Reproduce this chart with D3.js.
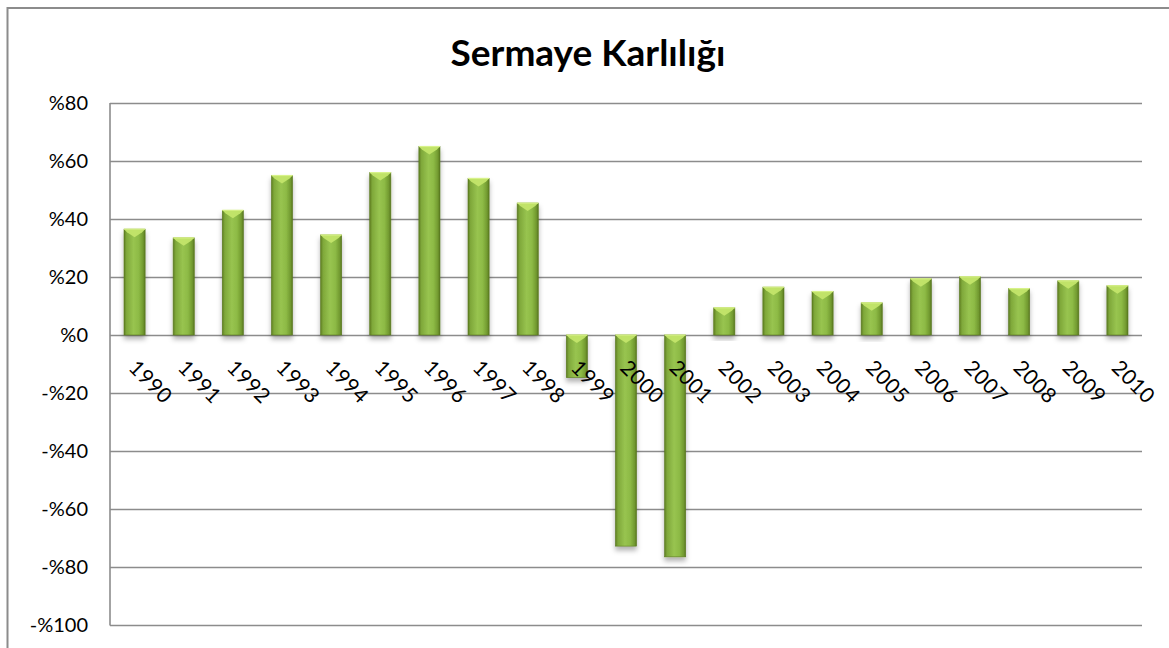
<!DOCTYPE html>
<html>
<head>
<meta charset="utf-8">
<script src="https://cdn.jsdelivr.net/npm/d3@7"></script>
<style>
  body { margin: 0; background: #fff; }
  svg { display: block; font-family: Lato, "Open Sans", sans-serif; }
</style>
</head>
<body>
<div id="chart"></div>
<script>
// Data
const years = ["1990", "1991", "1992", "1993", "1994", "1995", "1996", "1997", "1998", "1999",
               "2000", "2001", "2002", "2003", "2004", "2005", "2006", "2007", "2008", "2009", "2010"];
const values = [36.5, 33.5, 43, 55, 34.5, 56, 65, 54, 45.5, -14.7,
                -72.8, -76.5, 9.4, 16.5, 15, 11.1, 19.4, 20.1, 16, 18.7, 17];
const yTicks = [80, 60, 40, 20, 0, -20, -40, -60, -80, -100];
const title = "Sermaye Karlılığı";

const W = 1169, H = 648;
const plot = {left: 110, right: 1142, top: 103, bottom: 625};

const svg = d3.select("#chart").append("svg")
    .attr("width", W)
    .attr("height", H);

// outer chart border (continues past right/bottom edge)
svg.append("rect")
    .attr("x", 7.5).attr("y", 8)
    .attr("width", W + 20).attr("height", H + 20)
    .attr("fill", "#fff")
    .attr("stroke", "#8c8c8c")
    .attr("stroke-width", 2);

const defs = svg.append("defs");
const grad = defs.append("linearGradient")
    .attr("id", "barGrad")
    .attr("x1", "0%").attr("x2", "100%").attr("y1", "0%").attr("y2", "0%");
grad.selectAll("stop")
    .data([["0%", "#5e7d22"], ["12%", "#7fa83a"], ["45%", "#98c450"], ["70%", "#8dba45"], ["90%", "#729a30"], ["100%", "#587620"]])
    .enter().append("stop")
    .attr("offset", d => d[0])
    .attr("stop-color", d => d[1]);

const shadow = defs.append("filter")
    .attr("id", "shadow")
    .attr("x", "-50%").attr("y", "-20%").attr("width", "200%").attr("height", "140%");
shadow.append("feDropShadow")
    .attr("dx", 0).attr("dy", 4)
    .attr("stdDeviation", 2.5)
    .attr("flood-color", "#000")
    .attr("flood-opacity", 0.3);

// scales
const x = d3.scaleBand()
    .domain(years)
    .range([plot.left, plot.right])
    .paddingInner(0.57)
    .paddingOuter(0.285);

const y = d3.scaleLinear()
    .domain([-100, 80])
    .range([plot.bottom, plot.top]);

// gridlines
svg.append("g")
    .selectAll("line")
    .data(yTicks)
    .enter().append("line")
    .attr("x1", plot.left).attr("x2", plot.right)
    .attr("y1", d => Math.round(y(d)) + 0.5)
    .attr("y2", d => Math.round(y(d)) + 0.5)
    .attr("stroke", "#8c8c8c")
    .attr("stroke-width", 1.6);

// left axis line
svg.append("line")
    .attr("x1", plot.left).attr("x2", plot.left)
    .attr("y1", plot.top).attr("y2", plot.bottom + 0.5)
    .attr("stroke", "#8c8c8c")
    .attr("stroke-width", 1.6);

// y tick labels
svg.append("g")
    .selectAll("text")
    .data(yTicks)
    .enter().append("text")
    .attr("x", 88)
    .attr("y", d => y(d))
    .attr("dy", "0.35em")
    .attr("text-anchor", "end")
    .attr("font-size", 20)
    .attr("fill", "#000")
    .text(d => (d < 0 ? "-%" + Math.abs(d) : "%" + d));

// bars
const bars = svg.append("g")
    .selectAll("g")
    .data(values)
    .enter().append("g")
    .attr("filter", "url(#shadow)");

bars.append("rect")
    .attr("x", (d, i) => x(years[i]))
    .attr("y", d => y(Math.max(0, d)))
    .attr("width", x.bandwidth())
    .attr("height", d => Math.abs(y(d) - y(0)))
    .attr("fill", "url(#barGrad)")
    .attr("stroke", "#5a7a1f")
    .attr("stroke-width", 0.6);

// bevel highlight on the top of each bar
bars.append("path")
    .attr("d", (d, i) => {
        const x0 = x(years[i]), bw = x.bandwidth();
        const top = y(Math.max(0, d));
        const depth = Math.min(8, Math.abs(y(d) - y(0)) / 2);
        return `M${x0},${top} L${x0 + bw},${top} L${x0 + bw - 3},${top + 3} L${x0 + bw / 2},${top + depth} L${x0 + 3},${top + 3} Z`;
    })
    .attr("fill", "#c3e56a")
    .attr("opacity", 0.95);

bars.append("path")
    .attr("d", (d, i) => {
        const x0 = x(years[i]), bw = x.bandwidth();
        const top = y(Math.max(0, d));
        return `M${x0},${top} L${x0 + bw},${top}`;
    })
    .attr("stroke", "#d8f28a")
    .attr("stroke-width", 1.2);

// category labels, rotated 45 deg
svg.append("g")
    .selectAll("text")
    .data(years)
    .enter().append("text")
    .attr("transform", d => `translate(${x(d) + x.bandwidth() / 2 - 7},${y(0) + 34}) rotate(45)`)
    .attr("font-size", 21)
    .attr("letter-spacing", 0.5)
    .attr("fill", "#000")
    .text(d => d);

// title
svg.append("text")
    .attr("x", 588)
    .attr("y", 66)
    .attr("text-anchor", "middle")
    .attr("font-size", 37)
    .attr("font-weight", "bold")
    .attr("fill", "#000")
    .text(title);
</script>
</body>
</html>
